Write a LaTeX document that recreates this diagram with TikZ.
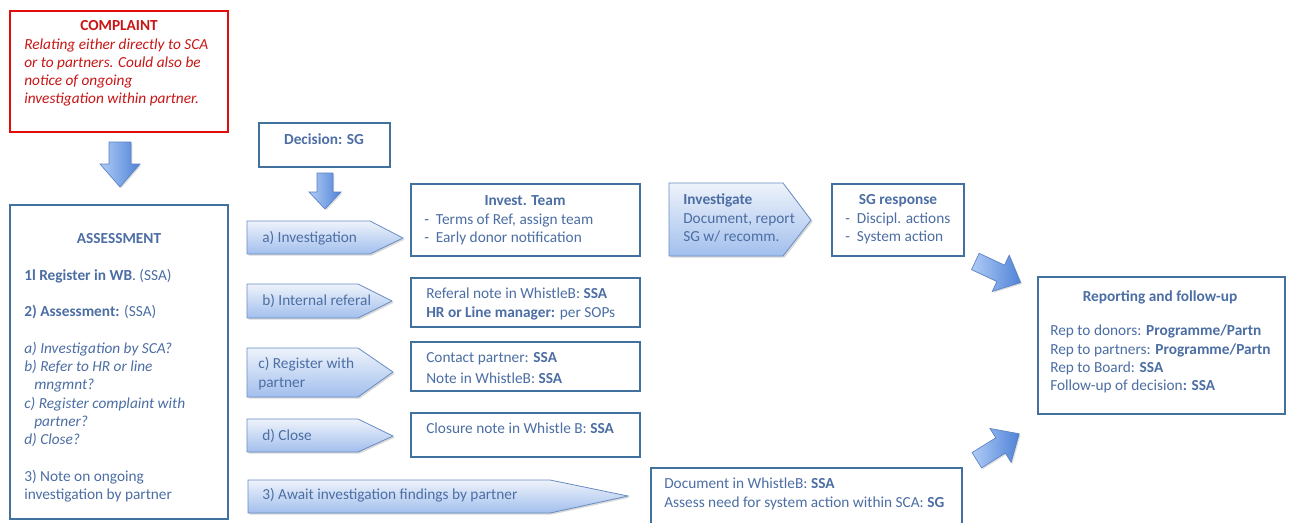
\documentclass[tikz,border=0pt]{standalone}
\usepackage{fontspec}
\setmainfont{Carlito}
\usetikzlibrary{shadows}

\definecolor{boxblue}{RGB}{65,113,156}
\definecolor{txtblue}{RGB}{76,110,164}
\definecolor{alarmred}{RGB}{226,12,12}
\definecolor{alarmtxt}{RGB}{200,22,22}
\definecolor{tagline}{RGB}{105,140,195}
\definecolor{tagtop}{RGB}{238,243,251}
\definecolor{tagbottom}{RGB}{162,191,237}
\definecolor{arrowline}{RGB}{90,130,195}
\definecolor{arrowlight}{RGB}{176,204,246}
\definecolor{arrowdark}{RGB}{80,130,215}

\tikzset{
  box/.style={draw=boxblue,line width=1.2pt,fill=white},
  alarmbox/.style={draw=alarmred,line width=2.2pt,fill=white},
  txt/.style={inner sep=0pt,text=txtblue,align=left,anchor=west,
    font=\fontsize{11.5}{13.7}\selectfont},
  ttl/.style={txt,anchor=center,font=\fontsize{11.5}{13.7}\selectfont\bfseries},
  tag/.style={draw=tagline,line width=0.6pt,top color=tagtop,bottom color=tagbottom,
    drop shadow={opacity=0.3,shadow xshift=1.2pt,shadow yshift=-1.2pt}},
  blockarrow/.style={draw=arrowline,line width=0.5pt,left color=arrowlight,right color=arrowdark,
    drop shadow={opacity=0.25,shadow xshift=1pt,shadow yshift=-1pt}}
}

\begin{document}
\begin{tikzpicture}[x=0.75pt,y=-0.75pt]
  \useasboundingbox[fill=white] (0,0) rectangle (1291,522);
  % complaint
  \draw[alarmbox] (10,11) rectangle (228,132);
  \node[ttl,text=alarmtxt] (COMPT) at (119,26) {COMPLAINT};
  \node[txt,text=alarmtxt,font=\fontsize{11.5}{13.7}\selectfont\itshape] (COMPB) at (24,72.5)
    {Relating either directly to SCA\\or to partners. Could also be\\notice of ongoing\\investigation within partner.};
  % down arrow to assessment
  \draw[blockarrow] (109,142) -- (131,142) -- (131,164) -- (140,164) -- (120,187)
    -- (100,164) -- (109,164) -- cycle;
  % assessment
  \draw[box] (10,205) rectangle (228,519);
  \node[ttl] (ASST) at (119,239) {ASSESSMENT};
  \node[txt] (ASSB) at (24,385.5)
    {\textbf{1l Register in WB}. (SSA)\\[13.7pt]
     \textbf{2) Assessment:} (SSA)\\[13.7pt]
     \textit{a) Investigation by SCA?}\\
     \textit{b) Refer to HR or line}\\
     \hspace*{7.5pt}\textit{mngmnt?}\\
     \textit{c) Register complaint with}\\
     \hspace*{7.5pt}\textit{partner?}\\
     \textit{d) Close?}\\[13.7pt]
     3) Note on ongoing\\
     investigation by partner};
  % decision
  \draw[box] (259,123) rectangle (390,167);
  \node[ttl] (DEC) at (324,139) {Decision: SG};
  \draw[blockarrow] (317,173) -- (333,173) -- (333,192) -- (341,192) -- (325,209)
    -- (309,192) -- (317,192) -- cycle;
  % a) investigation
  \draw[tag] (247,221) -- (370,221) -- (403,238) -- (370,254) -- (247,254) -- cycle;
  \node[txt] (TA) at (262,238) {a) Investigation};
  \draw[box] (411,184) rectangle (640,256);
  \node[ttl] (INVT) at (525,201) {Invest. Team};
  \node[txt] (INVB) at (424,229.5) {-\ \ Terms of Ref, assign team\\-\ \ Early donor notification};
  % b) internal referal
  \draw[tag] (247,284) -- (358,284) -- (392,301) -- (358,318) -- (247,318) -- cycle;
  \node[txt] (TB) at (262,301) {b) Internal referal};
  \draw[box] (411,278) rectangle (640,327);
  \node[txt] (REFB) at (426,304) {Referal note in WhistleB: \textbf{SSA}\\\textbf{HR or Line manager:} per SOPs};
  % c) register with partner
  \draw[tag] (247,348) -- (358,348) -- (393,372) -- (358,397) -- (247,397) -- cycle;
  \node[txt] (TC) at (258,373.5) {c) Register with\\partner};
  \draw[box] (411,342) rectangle (640,391);
  \node[txt] (PARB) at (426,368) {Contact partner: \textbf{SSA}\\[1.5pt]Note in WhistleB: \textbf{SSA}};
  % d) close
  \draw[tag] (247,419) -- (358,419) -- (393,436) -- (358,452) -- (247,452) -- cycle;
  \node[txt] (TD) at (262,436) {d) Close};
  \draw[box] (411,413) rectangle (640,457);
  \node[txt] (CLOB) at (426,428) {Closure note in Whistle B: \textbf{SSA}};
  % 3) await findings
  \draw[tag] (248,480) -- (550,480) -- (628,496) -- (550,513) -- (248,513) -- cycle;
  \node[txt] (TE) at (262,495) {3) Await investigation findings by partner};
  \draw[box] (651,468) rectangle (962,530);
  \node[txt] (DOCB) at (664,494) {Document in WhistleB: \textbf{SSA}\\Assess need for system action within SCA: \textbf{SG}};
  % investigate
  \draw[tag] (669,183) -- (783,183) -- (811,220) -- (783,256) -- (669,256) -- cycle;
  \node[txt] (INV) at (683,218) {\textbf{Investigate}\\Document, report\\SG w/ recomm.};
  \draw[box] (832,184) rectangle (964,256);
  \node[ttl] (SGT) at (898,201) {SG response};
  \node[txt] (SGB) at (845,228.5) {-\ \ Discipl. actions\\-\ \ System action};
  % arrows into reporting
  \begin{scope}[shift={(998,272)},rotate=-25]
    \draw[blockarrow] (-25,-9) -- (3,-9) -- (3,-20) -- (25,0) -- (3,20) -- (3,9) -- (-25,9) -- cycle;
  \end{scope}
  \begin{scope}[shift={(998,447)},rotate=32]
    \draw[blockarrow] (-25,-9) -- (3,-9) -- (3,-20) -- (25,0) -- (3,20) -- (3,9) -- (-25,9) -- cycle;
  \end{scope}
  % reporting
  \draw[box] (1038,277) rectangle (1285,414);
  \node[ttl] (REPT) at (1160,297) {Reporting and follow-up};
  \node[txt] (REPB) at (1050,359)
    {Rep to donors: \textbf{Programme/Partn}\\
     Rep to partners: \textbf{Programme/Partn}\\
     Rep to Board: \textbf{SSA}\\
     Follow-up of decision\textbf{: SSA}};
\end{tikzpicture}
\end{document}
